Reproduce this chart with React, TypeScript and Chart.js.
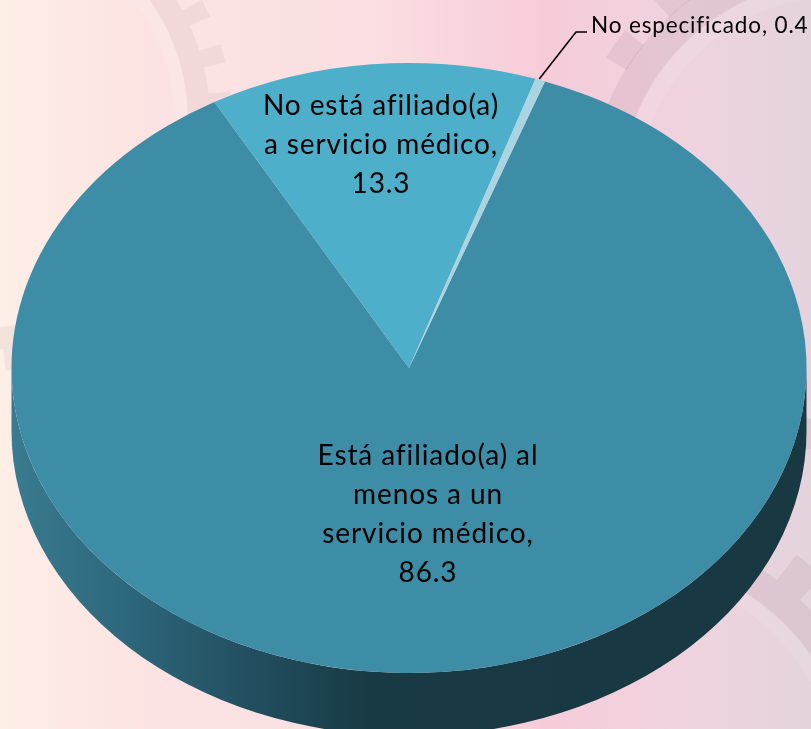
import React, { useEffect, useRef } from "react";
import { Chart, registerables } from "chart.js";

Chart.register(...registerables);

const categories = [
  "Está afiliado(a) al menos a un servicio médico",
  "No está afiliado(a) a servicio médico",
  "No especificado",
];
const values = [86.3, 13.3, 0.4];
const sliceColors = ["#3e8da6", "#4eafca", "#a9d4e2"];
const wrappedNames = [
  ["Está afiliado(a) al", "menos a un", "servicio médico,"],
  ["No está afiliado(a)", "a servicio médico,"],
  [],
];

const W = 811;
const H = 729;
const CX = 409;
const CY = 368;
const RX = 397.5;
const RY = 305;
const DEPTH = 63;
const START_DEG = 20;
const FONT = "Lato, Carlito, sans-serif";

const squashPlugin = {
  id: "squash",
  beforeDatasetsDraw(chart: any) {
    const ctx = chart.ctx;
    const arc = chart.getDatasetMeta(0).data[0];
    // extruded side of the disc
    const g = ctx.createLinearGradient(CX - RX, 0, CX + RX, 0);
    g.addColorStop(0, "#397b90");
    g.addColorStop(0.12, "#2f6b7f");
    g.addColorStop(0.3, "#224f60");
    g.addColorStop(0.45, "#183a44");
    g.addColorStop(1, "#183842");
    ctx.save();
    ctx.beginPath();
    ctx.ellipse(CX, CY, RX, RY, 0, 0, Math.PI);
    ctx.lineTo(CX - RX, CY + DEPTH);
    ctx.ellipse(CX, CY + DEPTH, RX, RY, 0, Math.PI, 0, true);
    ctx.closePath();
    ctx.fillStyle = g;
    ctx.fill();
    ctx.restore();
    // squash the circular pie to the ellipse of the disc's top
    ctx.save();
    ctx.translate(CX, CY);
    ctx.scale(RX / arc.outerRadius, RY / arc.outerRadius);
    ctx.translate(-arc.x, -arc.y);
  },
  afterDatasetsDraw(chart: any) {
    const ctx = chart.ctx;
    ctx.restore();
    const meta = chart.getDatasetMeta(0);

    ctx.save();
    ctx.fillStyle = "#000";
    ctx.textAlign = "center";
    ctx.textBaseline = "middle";
    ctx.font = `28px ${FONT}`;
    ctx.letterSpacing = "0.9px";
    const big = [
      { x: 428, y: 456 },
      { x: 381, y: 106 },
    ];
    big.forEach((p, i) => {
      const lines = [...wrappedNames[i], String(values[i])];
      lines.forEach((t, k) => ctx.fillText(t, p.x, p.y + k * 39));
    });

    // leader line and label of the thin slice
    const thin = meta.data[2];
    const mid = (thin.startAngle + thin.endAngle) / 2;
    const sx = CX + RX * Math.cos(mid);
    const sy = CY + RY * Math.sin(mid);
    ctx.strokeStyle = "#000";
    ctx.lineWidth = 1.6;
    ctx.beginPath();
    ctx.moveTo(sx - 1, sy - 1);
    ctx.lineTo(576, 32);
    ctx.lineTo(587, 32);
    ctx.stroke();
    ctx.textAlign = "left";
    ctx.font = `22.5px ${FONT}`;
    ctx.letterSpacing = "0.85px";
    ctx.fillText(`${categories[2]}, ${values[2]}`, 591, 26);
    ctx.restore();
  },
};

export default function App() {
  const ref = useRef<HTMLCanvasElement>(null);
  useEffect(() => {
    const chart = new Chart(ref.current!, {
      type: "pie",
      data: {
        labels: categories,
        datasets: [
          {
            data: values,
            backgroundColor: sliceColors,
            borderWidth: 0,
            clip: false,
          } as any,
        ],
      },
      options: {
        animation: false,
        responsive: false,
        rotation: START_DEG,
        events: [],
        plugins: { legend: { display: false }, tooltip: { enabled: false } },
      },
      plugins: [squashPlugin],
    });
    return () => chart.destroy();
  }, []);

  const gear = "rgba(125,90,105,0.1)";
  const gearSoft = "rgba(125,90,105,0.075)";
  const glow = "rgba(255,255,255,0.1)";
  return (
    <div
      style={{
        position: "absolute",
        left: 0,
        top: 0,
        width: W,
        height: H,
        overflow: "hidden",
        background:
          "linear-gradient(90deg,#fdeee6 0%,#fce3e2 18%,#fbdfe2 45%,#f6ccd9 67%,#eed3de 85%,#e4d3dd 100%)",
      }}
    >
      <svg width={W} height={H} style={{ position: "absolute", left: 0, top: 0 }}>
        <g fill="none">
          <circle cx={-20} cy={120} r={201} strokeWidth={13} stroke={glow} />
          <circle cx={-20} cy={120} r={219} strokeWidth={22} stroke={gearSoft} />
          <circle cx={-20} cy={120} r={241} strokeWidth={22} strokeDasharray="18 28" strokeDashoffset={-14} stroke={gearSoft} />
          <circle cx={840} cy={200} r={212} strokeWidth={16} stroke={glow} />
          <circle cx={840} cy={200} r={236} strokeWidth={30} stroke={gear} />
          <circle cx={840} cy={200} r={262} strokeWidth={24} strokeDasharray="32 40" strokeDashoffset={-30} stroke={gear} />
          <circle cx={620} cy={790} r={226} strokeWidth={14} stroke={glow} />
          <circle cx={620} cy={790} r={248} strokeWidth={28} stroke={gear} />
          <circle cx={620} cy={790} r={278} strokeWidth={32} strokeDasharray="32 30" stroke={gear} />
        </g>
      </svg>
      <canvas
        ref={ref}
        width={W}
        height={H}
        style={{ position: "absolute", left: 0, top: 0, display: "block" }}
      />
    </div>
  );
}
